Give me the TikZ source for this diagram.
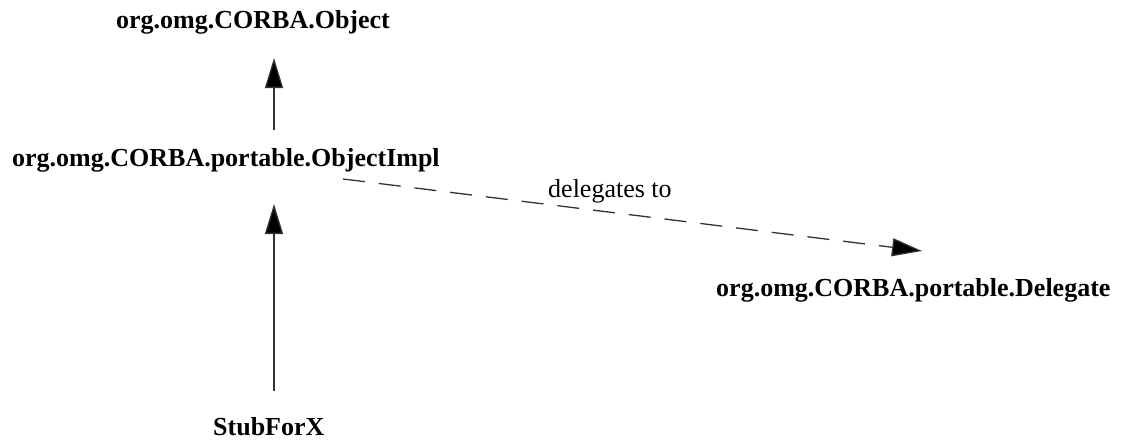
\documentclass[tikz,border=0pt]{standalone}
\usepackage{fontspec}
\setmainfont{Liberation Serif}
\usetikzlibrary{arrows.meta}
\begin{document}
\begin{tikzpicture}[x=1pt,y=-1pt,
  lbl/.style={inner sep=0pt,anchor=base west,font=\fontsize{26}{30}\selectfont\bfseries},
  note/.style={inner sep=0pt,anchor=base west,font=\fontsize{26}{30}\selectfont},
  arr/.style={line width=1.3pt,draw=black!80,-{Triangle[length=30pt,width=18pt,fill=black]}},
  dasharr/.style={arr,dash pattern=on 22pt off 14pt}]
\useasboundingbox (0,0) rectangle (1123,439);
\node[lbl] (obj) at (116,28) {org.omg.CORBA.Object};
\node[lbl] (impl) at (12,166) {org.omg.CORBA.portable.ObjectImpl};
\node[lbl] (del) at (716,296) {org.omg.CORBA.portable.Delegate};
\node[lbl] (stub) at (213,435) {StubForX};
\node[note] (lab) at (548,197) {delegates to};
\coordinate (a1s) at (274,130);
\coordinate (a1e) at (274,58);
\coordinate (a2s) at (274,391);
\coordinate (a2e) at (274,204);
\coordinate (a3s) at (343,179);
\coordinate (a3e) at (922,251);
\draw[arr] (a1s) -- (a1e);
\draw[arr] (a2s) -- (a2e);
\draw[dasharr] (a3s) -- (a3e);
\end{tikzpicture}
\end{document}
